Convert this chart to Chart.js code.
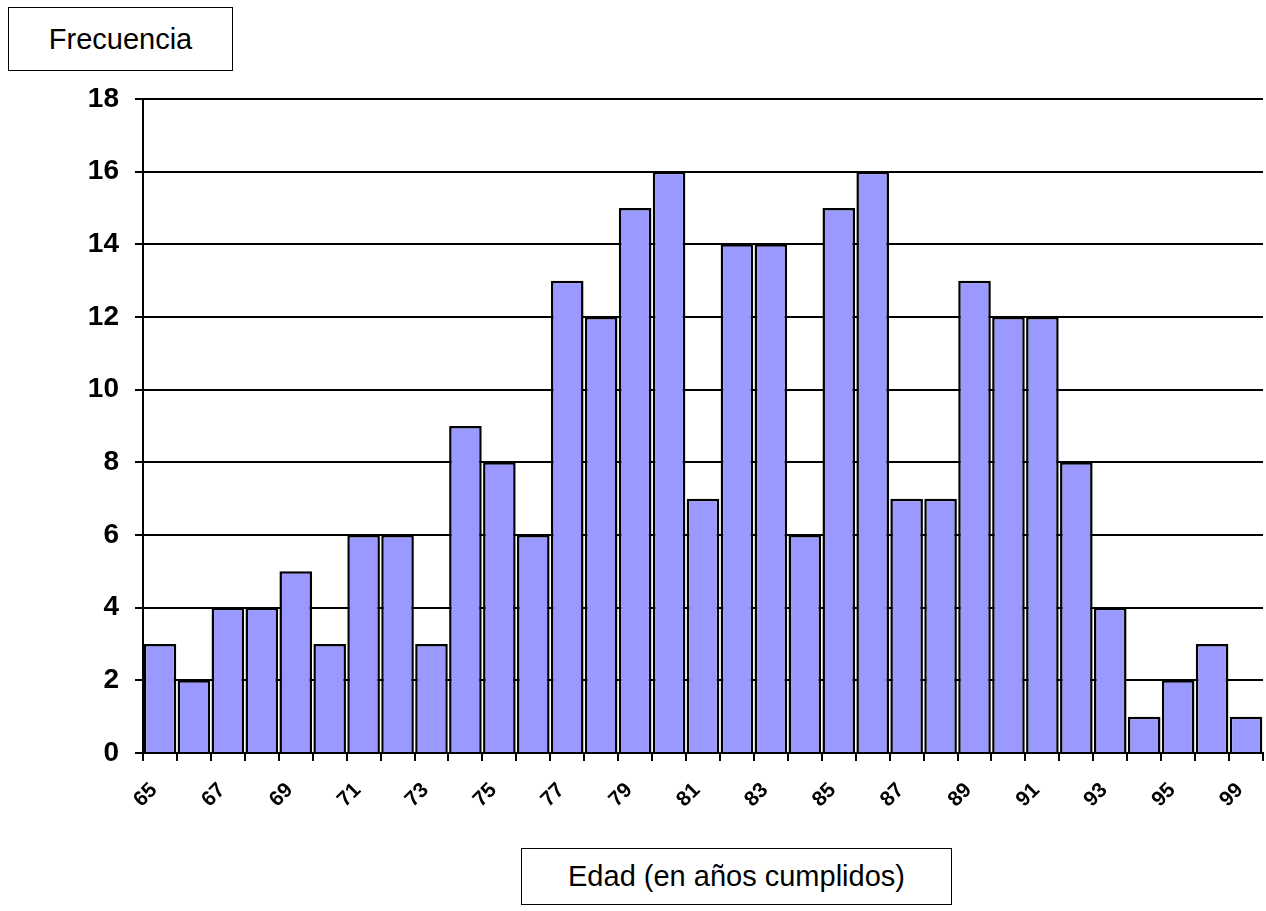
<!DOCTYPE html>
<html>
<head>
<meta charset="utf-8">
<script src="https://cdn.jsdelivr.net/npm/chart.js@4/dist/chart.umd.min.js"></script>
<style>
  html, body { margin: 0; padding: 0; background: #fff; }
  #wrap { position: relative; width: 1266px; height: 911px; }
  canvas { position: absolute; left: 0; top: 0; }
  .box {
    position: absolute; box-sizing: border-box; border: 1.5px solid #000;
    background: #fff; font-family: "Liberation Sans", Arial, sans-serif;
    color: #000; display: flex; align-items: center; justify-content: center;
  }
  #ytitle { left: 8px; top: 7px; width: 225px; height: 64px; font-size: 29px; }
  #xtitle { left: 521px; top: 848px; width: 431px; height: 57px; font-size: 29px; }
</style>
</head>
<body>
<div id="wrap">
  <canvas id="c" width="1266" height="911"></canvas>
  <div class="box" id="ytitle">Frecuencia</div>
  <div class="box" id="xtitle">Edad (en años cumplidos)</div>
</div>
<script>
// Ages (years completed) and how many people had each age
const ages = ['65','66','67','68','69','70','71','72','73','74','75','76','77','78','79','80',
              '81','82','83','84','85','86','87','88','89','90','91','92','93','94','95','97','99'];
const frequency = [3,2,4,4,5,3,6,6,3,9,8,6,13,12,15,16,
                   7,14,14,6,15,16,7,7,13,12,12,8,4,1,2,3,1];
const yTicks = [0,2,4,6,8,10,12,14,16,18];

const font = '"Liberation Sans", Arial, sans-serif';

new Chart(document.getElementById('c'), {
  type: 'bar',
  data: {
    labels: ages,
    datasets: [{
      data: frequency,
      backgroundColor: '#9999FF',
      borderColor: '#000',
      borderWidth: 2.5,
      barPercentage: 0.96,
      categoryPercentage: 1.0
    }]
  },
  options: {
    responsive: false,
    animation: false,
    layout: { padding: { left: 0, right: 3, top: 99, bottom: 0 } },
    plugins: { legend: { display: false }, tooltip: { enabled: false } },
    scales: {
      x: {
        offset: true,
        grid: { offset: true, drawOnChartArea: false, drawTicks: true, tickLength: 8, color: '#000', lineWidth: 2 },
        border: { display: true, color: '#000', width: 2 },
        ticks: {
          autoSkip: false, maxRotation: 45, minRotation: 45, padding: 17, labelOffset: -6,
          color: '#000', font: { family: font, size: 21, weight: 'bold' },
          callback: function (v, i) { return i % 2 === 0 ? ages[i] : ''; }
        },
        afterFit: function (s) { s.height = 158; s.paddingLeft = 0; s.paddingRight = 0; }
      },
      y: {
        min: 0, max: 18,
        afterBuildTicks: function (s) { s.ticks = yTicks.map(v => ({ value: v })); },
        grid: { color: '#000', lineWidth: 2, drawTicks: true, tickLength: 8 },
        border: { display: true, color: '#000', width: 2 },
        ticks: {
          padding: 16, color: '#000',
          font: { family: font, size: 28, weight: 'bold' }
        },
        afterFit: function (s) { s.width = 143; s.paddingTop = 0; s.paddingBottom = 0; }
      }
    }
  }
});
</script>
</body>
</html>
